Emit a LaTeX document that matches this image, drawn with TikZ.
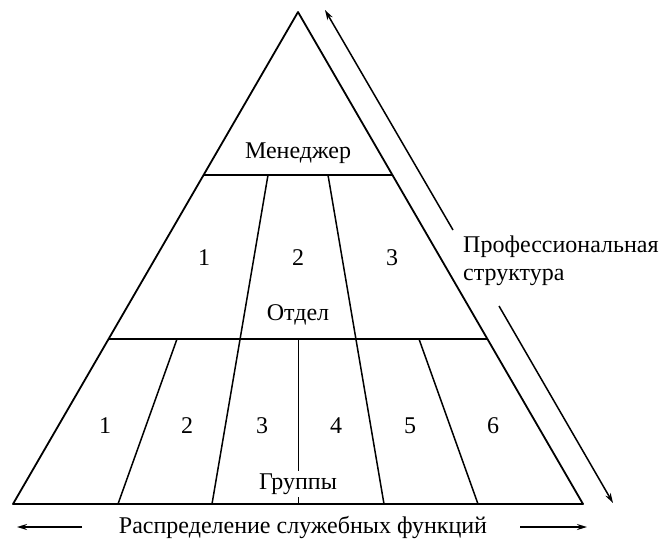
\documentclass[tikz,border=0pt]{standalone}
\usepackage{fontspec}
\setmainfont{Liberation Serif}
\usetikzlibrary{arrows.meta}
\tikzset{
  lbl/.style={font=\fontsize{24}{28}\selectfont, inner sep=1pt},
  rim/.style={line width=1.8pt, line join=round},
  cut/.style={line width=1.5pt},
  dir/.style={line width=1.5pt, -{Stealth[length=10pt,width=6pt]}}
}
\begin{document}
\begin{tikzpicture}[x=1pt,y=-1pt]
\useasboundingbox (0,0) rectangle (664,539);
% pyramid outline and levels
\coordinate (top) at (298,12);
\coordinate (bl) at (13,504);
\coordinate (br) at (583,504);
\coordinate (ml) at (204,175);
\coordinate (mr) at (392,175);
\coordinate (ol) at (108,339);
\coordinate (or) at (488,339);
\draw[rim] (top) -- (br) -- (bl) -- cycle;
\draw[rim] (ml) -- (mr);
\draw[rim] (ol) -- (or);
% departments and groups
\draw[cut] (268,175) -- (212,504);
\draw[cut] (328,175) -- (384,504);
\draw[cut] (177,339) -- (118,504);
\draw[cut] (419,339) -- (478,504);
\draw[line width=1pt] (298,339) -- (298,504);
\node[lbl] (mgr) at (298,153) {Менеджер};
\node[lbl] (dept) at (298,315) {Отдел};
\node[lbl, fill=white, inner sep=3pt] (groups) at (298,484) {Группы};
\foreach \n/\x in {1/204, 2/298, 3/392}
  \node[lbl] (d\n) at (\x,258) {\n};
\foreach \n/\x in {1/105, 2/187, 3/262, 4/336, 5/410, 6/493}
  \node[lbl] (g\n) at (\x,426) {\n};
% arrows
\coordinate (p1) at (453,230);
\coordinate (p0) at (325,10);
\coordinate (q1) at (499,306);
\coordinate (q0) at (613,503);
\draw[dir] (p1) -- (p0);
\draw[dir] (q1) -- (q0);
\node[lbl, anchor=west, align=left] (prof) at (462,261) {Профессиональная\\структура};
\node[lbl] (distr) at (303,527) {Распределение служебных функций};
\coordinate (l1) at (82,527);
\coordinate (l0) at (17,527);
\coordinate (r1) at (520,527);
\coordinate (r0) at (587,527);
\draw[dir] (l1) -- (l0);
\draw[dir] (r1) -- (r0);
\end{tikzpicture}
\end{document}
